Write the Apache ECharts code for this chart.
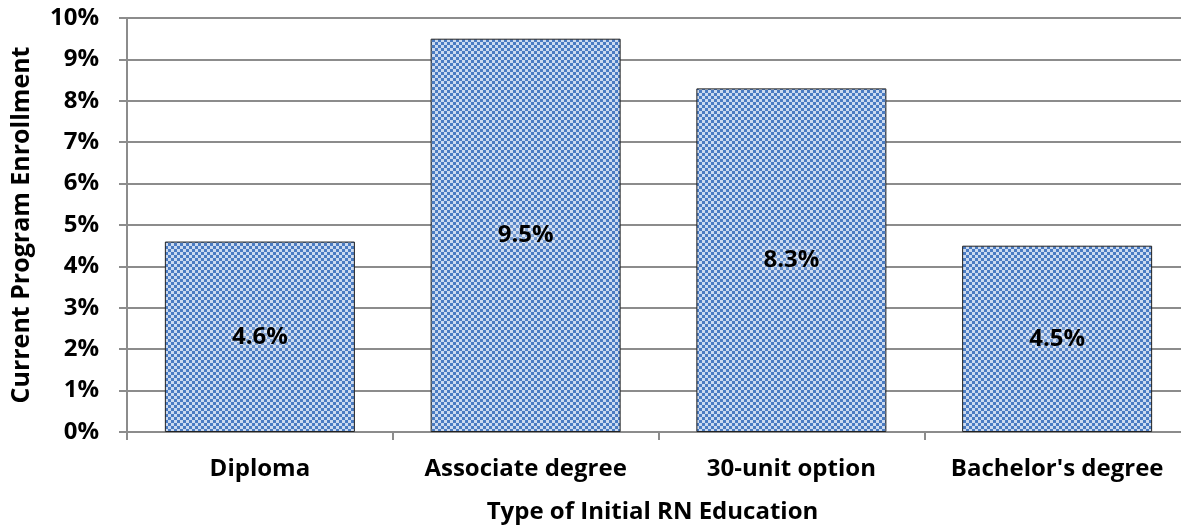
<!DOCTYPE html>
<html><head><meta charset="utf-8">
<script src="https://cdn.jsdelivr.net/npm/echarts@6/dist/echarts.min.js"></script>
<style>html,body{margin:0;padding:0;background:#fff;overflow:hidden}#c{width:1190px;height:529px}</style>
</head><body><div id="c"></div>
<script>
const categories = ["Diploma", "Associate degree", "30-unit option", "Bachelor's degree"];
const values = [4.6, 9.5, 8.3, 4.5];
const yTicks = [0,1,2,3,4,5,6,7,8,9,10];
const xTitle = "Type of Initial RN Education";
const yTitle = "Current Program Enrollment";

const pc = document.createElement('canvas');
pc.width = 6; pc.height = 6;
const g = pc.getContext('2d');
g.fillStyle = '#4a7bc2'; g.fillRect(0,0,6,6);
g.fillStyle = '#cbdaf0'; g.fillRect(0,0,3,3); g.fillRect(3,3,3,3);

const font = '"Open Sans", sans-serif';
const chart = echarts.init(document.getElementById('c'));
chart.setOption({
  animation:false,
  grid:{left:127, top:18, bottom:97, right:0},
  xAxis:{type:'category', data:categories,
    axisLine:{lineStyle:{color:'#8c8c8c', width:2}},
    axisTick:{show:true, interval:0, length:8, inside:false, lineStyle:{color:'#8c8c8c', width:2}},
    axisLabel:{interval:0, hideOverlap:false, color:'#000', fontWeight:'bold', fontSize:24, fontFamily:font, margin:25},
    name:xTitle, nameLocation:'middle', nameGap:68,
    nameTextStyle:{color:'#000', fontWeight:'bold', fontSize:24, fontFamily:font, padding:[0,12,0,0]}},
  yAxis:{type:'value', min:0, max:10, interval:1,
    axisLine:{show:true, lineStyle:{color:'#8c8c8c', width:2}},
    axisTick:{show:true, length:8, lineStyle:{color:'#8c8c8c', width:2}},
    splitLine:{lineStyle:{color:'#8c8c8c', width:2}},
    axisLabel:{color:'#000', fontWeight:'bold', fontSize:24, fontFamily:font, margin:28,
      formatter:v=> yTicks.includes(v) ? v+'%' : ''},
    name:yTitle, nameLocation:'middle', nameGap:93, nameRotate:90,
    nameTextStyle:{color:'#000', fontWeight:'bold', fontSize:25, fontFamily:font}},
  series:[{type:'bar', data:values, barWidth:'71.5%',
    itemStyle:{color:{image:pc, repeat:'repeat'}, borderColor:'#222', borderWidth:1},
    label:{show:true, position:'inside', formatter:p=>p.value.toFixed(1)+'%',
      color:'#000', fontWeight:'bold', fontSize:24, fontFamily:font,
      textShadowColor:'rgba(255,255,255,0.9)', textShadowBlur:8}
  }]
});
</script></body></html>
